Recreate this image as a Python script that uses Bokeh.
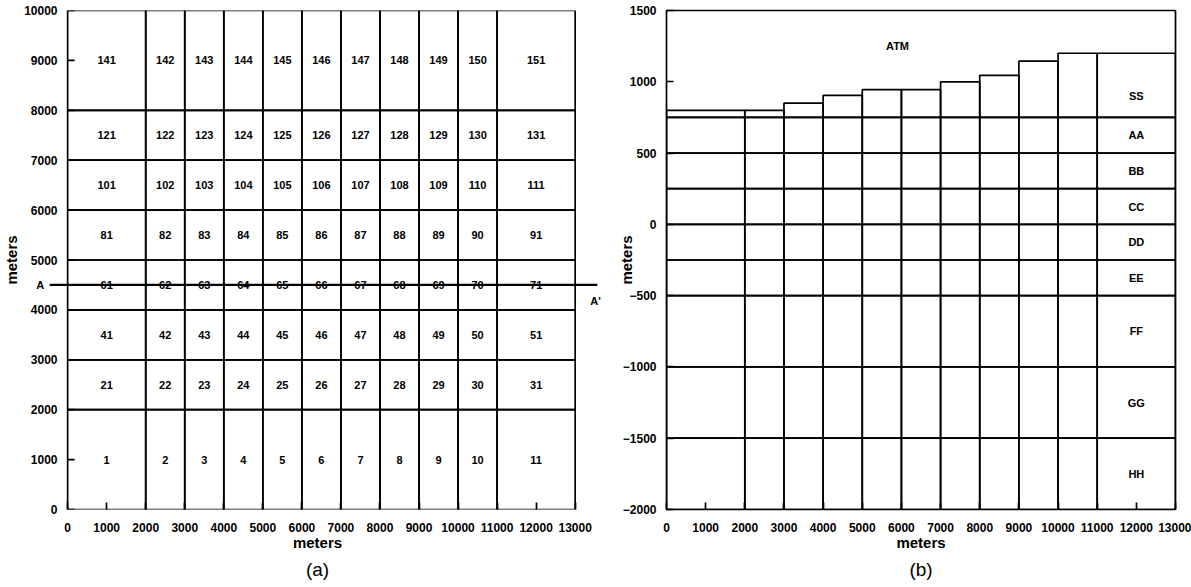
from bokeh.plotting import figure
from bokeh.layouts import row
from bokeh.models import FixedTicker, Title
from bokeh.core.properties import value
from bokeh.embed import file_html
from bokeh.resources import INLINE

# ---------------- data: panel (a) ----------------
x_edges = [0, 2000, 3000, 4000, 5000, 6000, 7000, 8000, 9000, 10000, 11000, 13000]
y_edges_a = [0, 2000, 3000, 4000, 5000, 6000, 7000, 8000, 10000]
cell_ids = [
    [1, 2, 3, 4, 5, 6, 7, 8, 9, 10, 11],
    [21, 22, 23, 24, 25, 26, 27, 28, 29, 30, 31],
    [41, 42, 43, 44, 45, 46, 47, 48, 49, 50, 51],
    [61, 62, 63, 64, 65, 66, 67, 68, 69, 70, 71],
    [81, 82, 83, 84, 85, 86, 87, 88, 89, 90, 91],
    [101, 102, 103, 104, 105, 106, 107, 108, 109, 110, 111],
    [121, 122, 123, 124, 125, 126, 127, 128, 129, 130, 131],
    [141, 142, 143, 144, 145, 146, 147, 148, 149, 150, 151],
]
section_y = 4500
section_x = [-460, 13570]
section_labels = ["A", "A'"]
section_label_x = [-700, 13520]
section_label_y = [4500, 4180]
x_ticks = list(range(0, 13001, 1000))
y_ticks_a = list(range(0, 10001, 1000))

# ---------------- data: panel (b) ----------------
surface_top = [800, 800, 850, 905, 945, 945, 1000, 1045, 1145, 1200, 1200]
layer_names = ["SS", "AA", "BB", "CC", "DD", "EE", "FF", "GG", "HH"]
layer_bottoms = [750, 500, 250, 0, -250, -500, -1000, -1500, -2000]
layer_label_y = [900, 625, 375, 125, -125, -375, -750, -1250, -1750]
layer_label_x = 12000
atm_label = "ATM"
atm_pos = (5900, 1250)
y_ticks_b = list(range(-2000, 1501, 500))

FONT = "Liberation Sans"
LW = 1.7
TXT = dict(text_align="center", text_baseline="middle", text_font=value(FONT),
           text_font_style="bold", text_font_size="11px", text_color="black")


def style(p, yticks):
    p.xgrid.visible = False
    p.ygrid.visible = False
    p.xaxis.ticker = FixedTicker(ticks=x_ticks)
    p.yaxis.ticker = FixedTicker(ticks=yticks)
    for ax in (p.xaxis[0], p.yaxis[0]):
        ax.axis_line_color = None
        ax.major_tick_in = 7
        ax.major_tick_out = 0
        ax.major_tick_line_width = LW
        ax.major_tick_line_color = "black"
        ax.minor_tick_line_color = None
        ax.major_label_text_font = FONT
        ax.major_label_text_font_style = "bold"
        ax.major_label_text_font_size = "12px"
        ax.major_label_text_color = "black"
        ax.major_label_standoff = 10
        ax.axis_label = "meters"
        ax.axis_label_text_font = FONT
        ax.axis_label_text_font_style = "bold"
        ax.axis_label_text_font_size = "15px"
        ax.axis_label_text_color = "black"
    p.xaxis.major_label_standoff = 13
    p.xaxis.axis_label_standoff = -1


def caption(p, txt):
    t = Title(text=txt, align="center", text_font=FONT, text_font_size="19px",
              text_font_style="normal", text_color="black", standoff=6)
    p.add_layout(t, "below")


# ---------------- panel (a) ----------------
# x range is widened so that the section line A-A' and its labels fit in the frame
pa = figure(width=608, height=587, x_range=(-900, 13700), y_range=(0, 10000),
            output_backend="svg", toolbar_location=None,
            min_border_left=30, min_border_right=6, min_border_top=10, min_border_bottom=78)
style(pa, y_ticks_a)
pa.outline_line_color = None
pa.yaxis.major_tick_in = 0
pa.yaxis.major_label_standoff = -25
pa.yaxis.axis_label_standoff = 1

ql, qr, qb, qt, lx, ly, lt = [], [], [], [], [], [], []
for r in range(len(y_edges_a) - 1):
    for c in range(len(x_edges) - 1):
        ql.append(x_edges[c]); qr.append(x_edges[c + 1])
        qb.append(y_edges_a[r]); qt.append(y_edges_a[r + 1])
        lx.append((x_edges[c] + x_edges[c + 1]) / 2)
        ly.append((y_edges_a[r] + y_edges_a[r + 1]) / 2)
        lt.append(str(cell_ids[r][c]))
pa.quad(left=ql, right=qr, bottom=qb, top=qt, fill_color=None,
        line_color="black", line_width=LW)
pa.text(x=lx, y=ly, text=lt, **TXT)

# inward y ticks drawn at x = 0 (the left edge of the grid)
tick_len = 180
pa.segment(x0=[x_edges[0]] * len(y_ticks_a), x1=[x_edges[0] + tick_len] * len(y_ticks_a),
           y0=y_ticks_a, y1=y_ticks_a, line_color="black", line_width=LW)

pa.line(x=section_x, y=[section_y, section_y], line_color="black", line_width=2.2)
pa.text(x=section_label_x, y=section_label_y, text=section_labels, **TXT)
caption(pa, "(a)")

# ---------------- panel (b) ----------------
pb = figure(width=583, height=587, x_range=(0, 13000), y_range=(-2000, 1500),
            output_backend="svg", toolbar_location=None,
            min_border_left=58, min_border_right=16, min_border_top=10, min_border_bottom=78)
style(pb, y_ticks_b)
pb.outline_line_color = "black"
pb.outline_line_width = LW
pb.yaxis.axis_label_standoff = -15

ql, qr, qb, qt = [], [], [], []
for c in range(len(x_edges) - 1):
    tops = [surface_top[c]] + layer_bottoms[:-1]
    for top, bot in zip(tops, layer_bottoms):
        ql.append(x_edges[c]); qr.append(x_edges[c + 1])
        qb.append(bot); qt.append(top)
pb.quad(left=ql, right=qr, bottom=qb, top=qt, fill_color=None,
        line_color="black", line_width=LW)
pb.text(x=[layer_label_x] * len(layer_names), y=layer_label_y, text=layer_names, **TXT)
pb.text(x=[atm_pos[0]], y=[atm_pos[1]], text=[atm_label], **TXT)
caption(pb, "(b)")

layout = row(pa, pb)
open("out.html", "w").write(file_html(layout, INLINE))
